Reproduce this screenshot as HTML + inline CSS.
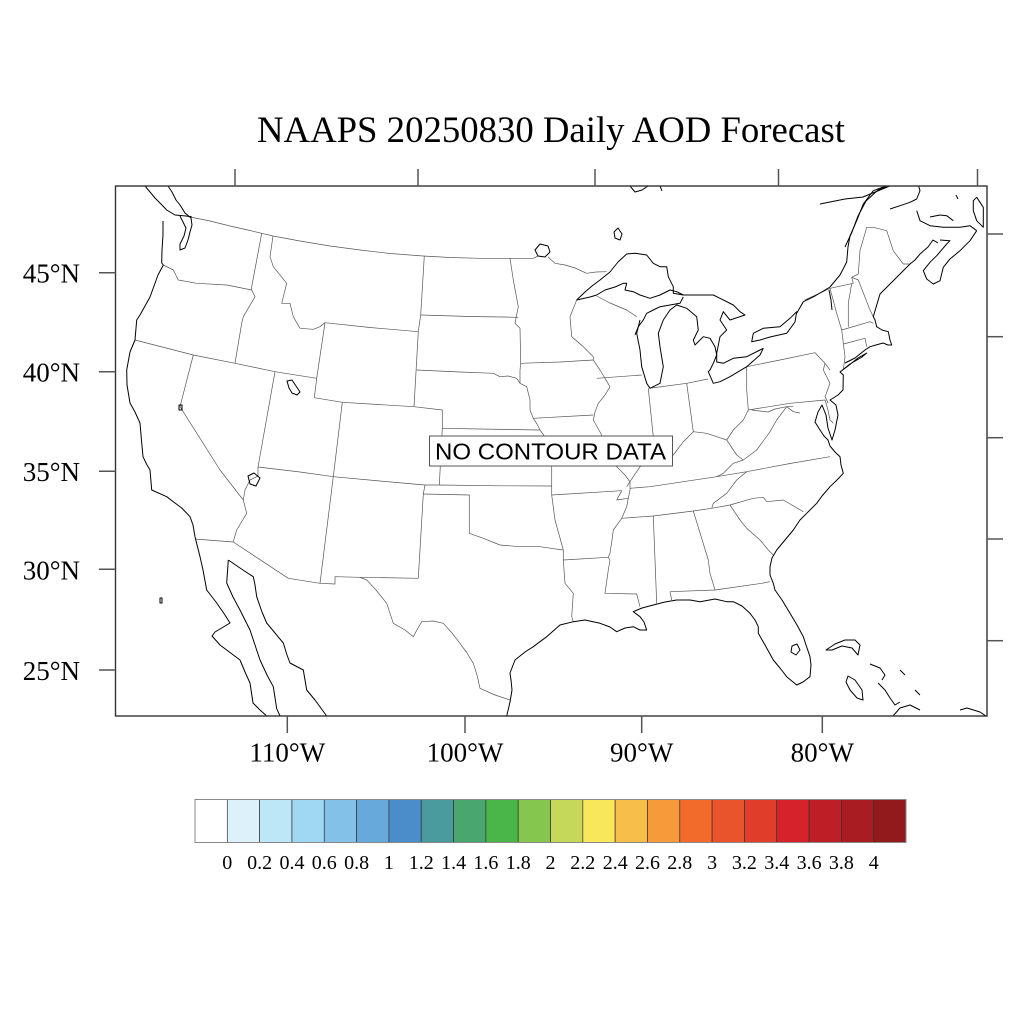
<!DOCTYPE html>
<html><head><meta charset="utf-8"><style>
html,body{margin:0;padding:0;background:#fff;}
svg{display:block;}
.st{fill:none;stroke:#555;stroke-width:0.7;stroke-linejoin:round;}
.co{fill:none;stroke:#000;stroke-width:1;stroke-linejoin:round;}
.tk{stroke:#555;stroke-width:1.5;}
.lab{font-family:"Liberation Serif",serif;font-size:27px;fill:#000;}
.cb{font-family:"Liberation Serif",serif;font-size:20px;fill:#000;}
</style></head><body>
<svg width="1024" height="1024" viewBox="0 0 1024 1024" xmlns="http://www.w3.org/2000/svg">
<rect width="1024" height="1024" fill="#fff"/>
<text x="551" y="142" text-anchor="middle" font-family="Liberation Serif, serif" font-size="36.5" textLength="588" lengthAdjust="spacingAndGlyphs">NAAPS 20250830 Daily AOD Forecast</text>
<defs><clipPath id="fr"><rect x="115.5" y="186" width="871.5" height="530"/></clipPath></defs>
<g clip-path="url(#fr)">
<!-- state / national boundaries -->
<path class="st" d="M190,217 L210,221 L230,226 L250,230.5 L261.7,233.3 L273,236 L300,241 L330,246 L360,250 L390,253.5 L423,256 L450,257.5 L480,258.3 L510,258.3 L533.3,258.3 L538,256"/>
<path class="st" d="M548,257 L555,263.3 L565,265 L575,268 L586.7,273.3 L596,272 L606.7,271.7"/>
<path class="st" d="M805,300 L818,294 L830,288.3 L853.3,283.3 L851.7,277.3 L858.3,274 L860,250.7 L866.7,227.3 L873.3,227.3 L886.7,230.7 L893.3,250.7 L903.3,264 L910,264"/>
<path class="st" d="M163.3,265 L173.3,270 L178.3,280 L196.7,283.3 L226.7,285 L251.7,290"/>
<path class="st" d="M261.7,233.3 L251.7,286.7 L251.7,290 L255,296.7 L243.3,316.7 L241.7,323.3 L235,363.3"/>
<path class="st" d="M135,340 L193.3,355 L235,363.3 L275,371.7 L316.7,378.3"/>
<path class="st" d="M193.3,355 L180,406.7 L220,470 L243.3,500 L246.7,513.3 L236.7,530 L233.3,541.7"/>
<path class="st" d="M275,371.7 L258,467 L258,476 L250,480 L245,490 L243.3,500"/>
<path class="st" d="M273,236 L270,256.7 L273.3,266.7 L286.7,283.3 L281.7,303.3 L290,303.3 L293.3,316.7 L300,328.3 L313.3,329.3 L320,326.7 L325,322.7 L316.7,378.3 L314.3,397.7"/>
<path class="st" d="M325,322.7 L370,327.5 L418.3,331.7"/>
<path class="st" d="M314.3,397.7 L342.3,402.3 L414,406.7 L442.3,410 L442.3,428.3 L439.3,485"/>
<path class="st" d="M342.3,402.3 L333.3,476.7 L320,583.3"/>
<path class="st" d="M258,467 L300,472 L333.3,476.7 L380,481 L425,485 L439.3,485 L500,485.8 L551.7,486"/>
<path class="st" d="M425,485 L423.3,494 L418.3,578.3"/>
<path class="st" d="M423.3,494 L469.3,495 L469.3,533.3"/>
<path class="st" d="M320,583.3 L335,584 L335,576.7 L360,577.3 L418.3,578.3"/>
<path class="st" d="M195,539 L233.3,542 L288.3,578.3 L320,583.3"/>
<path class="st" d="M360,577.3 L366.7,580 L376,590 L386.7,603.3 L393.3,623.3 L405,630 L413.3,636.7 L418,628 L421.7,621.7 L433,621 L443.3,623.3 L452,633 L460,643.3 L467,653 L473.3,663.3 L477,675 L480,688.3 L495,695 L510,700"/>
<path class="st" d="M442.3,428.3 L480,429 L510,429.5 L540,430"/>
<path class="st" d="M416.7,370 L460,372 L493.3,373.3 L500,376.7 L508,376 L516.7,378.3 L520,383.3"/>
<path class="st" d="M420.7,315 L470,316.5 L518.3,317.3"/>
<path class="st" d="M424.3,256 L420.7,315 L418.3,331.7 L414,406.7"/>
<path class="st" d="M510,258.3 L513.3,280 L518.3,306.7 L515,323.3 L520,328.3 L520.7,363.3 L520,370 L520,383.3 L526.7,386.7 L530,400 L530,410 L533.3,418.3 L537,424 L540,430 L545,437 L550,446.7 L551.7,455 L551.7,470 L551.7,495 L555,520 L563.3,550 L563.3,560 L565,583.3 L573.3,593.3 L571.7,616.7 L573.3,621.7"/>
<path class="st" d="M520.7,363.3 L560,362 L593.3,360"/>
<path class="st" d="M533.3,418.3 L593.3,415"/>
<path class="st" d="M576.7,300 L570,316.7 L571.7,336.7 L583.3,346.7 L593.3,356.7 L593.3,360 L600,370 L610,386.7 L605,395 L598.3,403.3 L595,412 L593.3,420 L601.7,435 L600,445 L605,455 L615,465 L625,475 L630,482 L630,490 L628.3,498.3 L626.7,506.7 L621.7,518.3 L613.3,530 L612,540 L610,553.3 L608.3,557.3 L610,560 L608.3,570 L605,593.3 L636.7,594 L640,606.7"/>
<path class="st" d="M551.7,495 L621.7,490.7 L616.7,500 L628.3,498.3"/>
<path class="st" d="M469.3,533.3 L483.3,538.3 L500,545 L520,546.7 L540,546.7 L562.7,550"/>
<path class="st" d="M563.3,560 L608.3,557.3"/>
<path class="st" d="M621.7,518.3 L653.3,516 L693.3,511 L711.7,508.3 L730,505 L753.3,498.3 L763.3,497.3 L766.7,501.7 L783.3,500 L803.3,511.7"/>
<path class="st" d="M653.3,516 L656.7,603.3"/>
<path class="st" d="M693.3,511 L708.3,560 L710,573.3 L715,590"/>
<path class="st" d="M670,591.7 L715,590 L761.7,583.3 L770,581.7 M670,591.7 L671.7,600"/>
<path class="st" d="M730,505 L740,520 L746.7,528.3 L760,540 L768.3,550 L773.3,555"/>
<path class="st" d="M746.7,471.7 L736.7,480 L726.7,493.3 L713.3,503.3 L711.7,508.3"/>
<path class="st" d="M630,488.3 L650,486.7 L716.7,476.7 L746.7,471.7 L790,463.5 L830,456.7"/>
<path class="st" d="M626.7,486.7 L633.3,476.7 L640,466.7 L648.3,463.3 L655,455 L660,452 L673.3,455 L683.3,441.7 L693.3,431.7 L706.7,433.3 L716.7,436.7 L726.7,440 L733.3,430 L743.3,420 L748.3,410"/>
<path class="st" d="M726.7,440 L736.7,455 L743.3,460 L733.3,463.3 L723.3,473.3 L716.7,476.7"/>
<path class="st" d="M743.3,460 L756.7,450 L770,431.7 L776.7,420 L786.7,406.7 L793.3,406.7"/>
<path class="st" d="M751.7,410 L768,412 L775,409 L786.7,406.7 L793.3,411.7 L800,413"/>
<path class="st" d="M748.3,410 L790,403.3 L825,400 L828,410 L830,420 L833.3,423.3"/>
<path class="st" d="M648.3,388.3 L653.3,436.7 L655,452"/>
<path class="st" d="M596.7,378.3 L641.7,375"/>
<path class="st" d="M651.7,388 L686.7,383.3 L708,379"/>
<path class="st" d="M686.7,383.3 L693.3,431.7"/>
<path class="st" d="M746.7,366.7 L746.7,390 L748.3,410"/>
<path class="st" d="M746.7,366.7 L780,360 L815,352.7 L825,363.3 L830,370"/>
<path class="st" d="M825,363.3 L823.3,370 L830,383.3 L825,396.7 L828.3,403.3"/>
<path class="st" d="M830,288.3 L836.7,313.3 L841.7,330 L845,356.7 L843.3,370"/>
<path class="st" d="M851.7,283.3 L848.3,303.3 L848.3,326.7"/>
<path class="st" d="M841.7,330 L870,321.7 L873.3,323.3"/>
<path class="st" d="M843.5,344 L865,338.3 L866.7,346.7"/>
<path class="st" d="M851.7,277.3 L858.3,280 L870,310 L873.3,316.7"/>
<path class="st" d="M596.7,296 L610,303 L626.7,310 L636.7,316.7"/>
<!-- coastlines -->
<path class="co" d="M163,221 L163,235 L162,250 L161.7,263 L163.3,265 L158,275 L150,297 L140,315 L136.7,320 L135,340 L130,352 L126.7,370 L127,385 L130,403 L135,412 L140,423 L141,435 L143,456.7 L147,465 L150,470 L151.7,490 L166.7,496.7 L175,503 L181.7,508 L190,516.7 L193,525 L195,536.7 L200,556.7 L203,570 L206.7,590 L216.7,603 L225,615 L230,623 L215,632 L212,636 L220,645 L226.7,650 L240,660 L245,672 L250,683 L253,703 L260,710 L266.7,716"/>
<path class="co" d="M228.3,560 L226.7,583 L233,597 L240,610 L245,620 L250,630 L255,645 L260,660 L267,675 L273.3,686.7 L276.7,708.7 L280,716"/>
<path class="co" d="M228.3,560 L240,568 L246,572 L253.3,576.7 L255,585 L256.7,596.7 L262,612 L266.7,623 L275,633 L283.3,643 L287,655 L290,663 L303.3,670 L306.7,690 L315,700 L326.7,716"/>
<path class="co" d="M506.7,716 L510,702 L512,690 L511,680 L510,673 L515,660 L525,652 L533.3,646.7 L546.7,636.7 L560,625 L573.3,621.7 L585,620 L600,623.3 L610,627 L616.7,631.7 L625,628 L633.3,626.7 L640,630 L646.7,630 L644,622 L640,616.7 L633.3,611.7 L642,608 L653.3,605 L665,602 L676.7,600 L690,600 L700,601.7 L715,599 L726.7,601.7 L733.3,601.7 L742,606 L750,613.3 L755,620 L758.3,626.7 L758.3,633.3 L765,645 L773.3,660 L780,668 L786.7,676.7 L796.7,685 L803,682 L810,676.7 L811,665 L810,656.7 L806,645 L803.3,636.7 L797,625 L790,613.3 L782,600 L775,590 L773.3,583.3 L770,575 L770,566.7 L772,558 L776.7,550 L785,540 L793.3,530 L800,520 L806.7,513.3 L816.7,503.3 L822,496 L830,486.7 L837,480 L843.3,473.3 L841,465 L840,456.7 L835,452 L830,446 L828,440 L824,436 L820,430 L815,422 L818,412 L822,405 L826,415 L828,428 L832,440 L835,430 L838,415 L836,405 L830,400 L838,395 L843,390 L843.3,375 L840,372"/>
<path class="co" d="M840,372 L848,366 L858,358 L866.7,353 L862,357 L850,364 Z"/>
<path class="co" d="M845,363 L855,358 L865,350 L870,346.7 L876,345 L883,343 L888,345 L891.7,345 L890,340 L888.3,331.7 L882,330 L876.7,326.7 L875,320 L873.3,316.7 L876.7,305 L880,294 L890,284 L900,274 L910,264 L915,260 L920,254 L928,247 L933,240 L938,243"/>
<path class="co" d="M976.7,230.7 L970,240.7 L960,250.7 L950,259 L943.3,267.3 L940,280.7 L933.3,284 L926.7,279 L923.3,270.7 L930,262.3 L936.7,255.7 L946.7,244 L950,240.7 L940,240"/>
<path class="co" d="M916.7,210.7 L920,220.7 L930,225.7 L943.3,227.3 L960,227.3 L970,225.7 L976.7,230.7"/>
<path class="co" d="M890,209 L900,205.7 L910,202.3 L916.7,199 L920,190.7 L918.3,185"/>
<path class="co" d="M930,217 L940,215 L946.7,215.7 L953.3,220.7"/>
<path class="co" d="M973.3,200.7 L976.7,197.3 L983.3,207.3 L983.3,227.3 L976.7,220.7 L973.3,210.7 Z"/>
<path class="co" d="M956,195 L958,199"/>
<path class="co" d="M796.7,313.3 L803.3,301.7 L815,296 L830,287 L840,275 L846.7,262 L848,247 L850,236 L856.7,220.7 L863.3,204 L873.3,190.7 L886.7,185.7"/>
<path class="co" d="M845,247 L852,232 L858,216 L866,201 L878,190 L888,186"/>
<path class="co" d="M820,204 L845,199 L863,197 L880,190 L890,186"/>
<!-- Lake Superior -->
<path class="co" d="M576.7,300 L585,292 L592,286 L600,280 L610,272 L618,262 L626.7,254 L635,253.3 L646.7,255 L653.3,263.3 L660,266.7 L666.7,266.7 L668.3,276.7 L673.3,286.7 L673.3,293.3 L683.3,295"/>
<path class="co" d="M576.7,300 L590,297 L596.7,295 L605,290 L615,287 L623.3,283.3 L626.7,283.3 L625,290 L633.3,291.7 L640,295 L650,298.3 L660,295 L670,290 L676.7,291.7 L683.3,295"/>
<!-- Canadian shore of Huron/Georgian Bay -->
<path class="co" d="M683.3,295 L713.3,295 L720,298.3 L733.3,305 L740,311.7 L745,315 L730,320 L723.3,311.7 L720,320 L726.7,330 L720,336.7 L716.7,353.3 L716.7,362 L723.3,363.3 L733.3,358.3 L746.7,356.7 L760,350 L763.3,348.3"/>
<!-- UP south shore -->
<path class="co" d="M683.3,297 L680,303.3 L670,305 L660,306.7 L653.3,310 L646.7,313.3 L643.3,320 L638.3,326.7 L635,335"/>
<!-- Michigan LP -->
<path class="co" d="M640,320 L636.7,333.3 L640,350 L641.7,366.7 L646.7,383.3 L650,388.3 L660,383.3 L663.3,366.7 L660,346.7 L658.3,333.3 L663.3,320 L670,310 L676.7,305 L686.7,308.3 L696.7,316.7 L698.3,330 L693.3,340 L695,345 L703.3,336.7 L710,338.3 L715,346.7 L716.7,355 L713.3,363.3 L710,370 L708.3,371.7 L713.3,383.3 L720,381.7 L730,376.7 L746.7,366.7 L760,355 L763.3,348.3"/>
<!-- Lake Ontario -->
<path class="co" d="M751.7,341.7 L753.3,333.3 L763.3,328.3 L780,326.7 L790,318.3 L796.7,311.7 L795,322 L786.7,333.3 L770,337 L760,340 Z"/>
<path class="co" d="M535,250 L540,244 L548,246 L550,252 L545,257 L538,256 Z"/>
<path class="co" d="M614,232 L618,228 L622,234 L620,240 L615,238 Z"/>
<path class="co" d="M630,186 L635,192 L642,190 L648,186 M660,186 L662,191"/>
<path class="co" d="M287,381 L292,380 L296,386 L300,392 L297,395 L292,393 L289,388 Z"/>
<path class="co" d="M179,405 L182,405 L182,410 L179,410 Z"/>
<path class="co" d="M248,476 L254,473 L260,478 L256,486 L250,484 Z"/>
<path class="co" d="M792,646 L797,644 L800,650 L796,655 L791,652 Z"/>
<path class="co" d="M829,290 L831,300 L832,310"/>
<path class="co" d="M145,186 L150,192 L155,198 L160,203 L166.7,210 L175,215 L186,216 L191.7,216.7"/>
<path class="co" d="M168,186 L172,192 L176,200 L180,205 L185,213 L191,218 L192,225 L190,232 L188,240 L185,248 L180,250 L180,244 L184,236 L186,228 L183,222 L180,216"/>
<path class="co" d="M160,598 L162,598 L162,603 L160,603 Z"/>
<path class="co" d="M826,650 L835,644 L845,640 L855,640 L860,645 L858,655 L852,648 L842,646 L832,650 Z"/>
<path class="co" d="M848,676 L855,680 L862,690 L863,700 L857,698 L850,690 L846,682 Z"/>
<path class="co" d="M870,664 L880,668 L885,675 L882,680 M878,683 L885,690 L890,698 L895,705 L900,702 M900,670 L905,675 M915,690 L920,695"/>
<path class="co" d="M893,716 L900,708 L910,705 L920,710 M960,710 L967,708 L980,712 L986,716"/>
</g>
<rect x="115.5" y="186" width="871.5" height="530" fill="none" stroke="#333" stroke-width="1.4"/>
<!-- ticks -->
<g class="tk">
<line x1="235" y1="169" x2="235" y2="186"/>
<line x1="418" y1="169" x2="418" y2="186"/>
<line x1="595" y1="169" x2="595" y2="186"/>
<line x1="778.5" y1="169" x2="778.5" y2="186"/>
<line x1="977.5" y1="169" x2="977.5" y2="186"/>
<line x1="287.3" y1="716" x2="287.3" y2="733"/>
<line x1="465" y1="716" x2="465" y2="733"/>
<line x1="641.7" y1="716" x2="641.7" y2="733"/>
<line x1="822.3" y1="716" x2="822.3" y2="733"/>
<line x1="99" y1="272.7" x2="115.5" y2="272.7"/>
<line x1="99" y1="371.7" x2="115.5" y2="371.7"/>
<line x1="99" y1="471.2" x2="115.5" y2="471.2"/>
<line x1="99" y1="569.3" x2="115.5" y2="569.3"/>
<line x1="99" y1="670" x2="115.5" y2="670"/>
<line x1="987" y1="234" x2="1003" y2="234"/>
<line x1="987" y1="336.7" x2="1003" y2="336.7"/>
<line x1="987" y1="437.7" x2="1003" y2="437.7"/>
<line x1="987" y1="539" x2="1003" y2="539"/>
<line x1="987" y1="640.7" x2="1003" y2="640.7"/>
</g>
<g class="lab" text-anchor="end">
<text x="80" y="282.7">45°N</text>
<text x="80" y="381.7">40°N</text>
<text x="80" y="481.2">35°N</text>
<text x="80" y="579.3">30°N</text>
<text x="80" y="680">25°N</text>
</g>
<g class="lab" text-anchor="middle">
<text x="287.3" y="761.5">110°W</text>
<text x="465" y="761.5">100°W</text>
<text x="641.7" y="761.5">90°W</text>
<text x="822.3" y="761.5">80°W</text>
</g>
<!-- no contour box -->
<rect x="429.5" y="436" width="243" height="30" fill="#fff" stroke="#555" stroke-width="1"/>
<text x="435" y="459.5" font-family="Liberation Sans, sans-serif" font-size="23.5" textLength="231" lengthAdjust="spacingAndGlyphs">NO CONTOUR DATA</text>
<!-- colorbar -->
<g stroke="#333" stroke-width="0.7">
<rect x="195" y="799.5" width="32.32" height="43" fill="#FFFFFF"/>
<rect x="227.32" y="799.5" width="32.32" height="43" fill="#DDF1FA"/>
<rect x="259.64" y="799.5" width="32.32" height="43" fill="#BDE6F7"/>
<rect x="291.96" y="799.5" width="32.32" height="43" fill="#A0D8F4"/>
<rect x="324.28" y="799.5" width="32.32" height="43" fill="#84C1E8"/>
<rect x="356.6" y="799.5" width="32.32" height="43" fill="#68A9DB"/>
<rect x="388.92" y="799.5" width="32.32" height="43" fill="#4A8DCA"/>
<rect x="421.24" y="799.5" width="32.32" height="43" fill="#4A9B9E"/>
<rect x="453.56" y="799.5" width="32.32" height="43" fill="#49A66F"/>
<rect x="485.88" y="799.5" width="32.32" height="43" fill="#4AB548"/>
<rect x="518.2" y="799.5" width="32.32" height="43" fill="#85C64E"/>
<rect x="550.52" y="799.5" width="32.32" height="43" fill="#C5D85A"/>
<rect x="582.84" y="799.5" width="32.32" height="43" fill="#F8E75B"/>
<rect x="615.16" y="799.5" width="32.32" height="43" fill="#F8BE4A"/>
<rect x="647.48" y="799.5" width="32.32" height="43" fill="#F69A3A"/>
<rect x="679.8" y="799.5" width="32.32" height="43" fill="#F36B2B"/>
<rect x="712.12" y="799.5" width="32.32" height="43" fill="#EA542D"/>
<rect x="744.44" y="799.5" width="32.32" height="43" fill="#E03E2A"/>
<rect x="776.76" y="799.5" width="32.32" height="43" fill="#D5222B"/>
<rect x="809.08" y="799.5" width="32.32" height="43" fill="#BE1E26"/>
<rect x="841.4" y="799.5" width="32.32" height="43" fill="#A91D22"/>
<rect x="873.72" y="799.5" width="32.32" height="43" fill="#92191C"/>
</g>
<rect x="195" y="799.5" width="711" height="43" fill="none" stroke="#888" stroke-width="1"/>
<g class="cb" text-anchor="middle">
<text x="227.3" y="869">0</text>
<text x="259.6" y="869">0.2</text>
<text x="292" y="869">0.4</text>
<text x="324.3" y="869">0.6</text>
<text x="356.6" y="869">0.8</text>
<text x="388.9" y="869">1</text>
<text x="421.2" y="869">1.2</text>
<text x="453.6" y="869">1.4</text>
<text x="485.9" y="869">1.6</text>
<text x="518.2" y="869">1.8</text>
<text x="550.5" y="869">2</text>
<text x="582.8" y="869">2.2</text>
<text x="615.2" y="869">2.4</text>
<text x="647.5" y="869">2.6</text>
<text x="679.8" y="869">2.8</text>
<text x="712.1" y="869">3</text>
<text x="744.4" y="869">3.2</text>
<text x="776.8" y="869">3.4</text>
<text x="809.1" y="869">3.6</text>
<text x="841.4" y="869">3.8</text>
<text x="873.7" y="869">4</text>
</g>
</svg>
</body></html>
